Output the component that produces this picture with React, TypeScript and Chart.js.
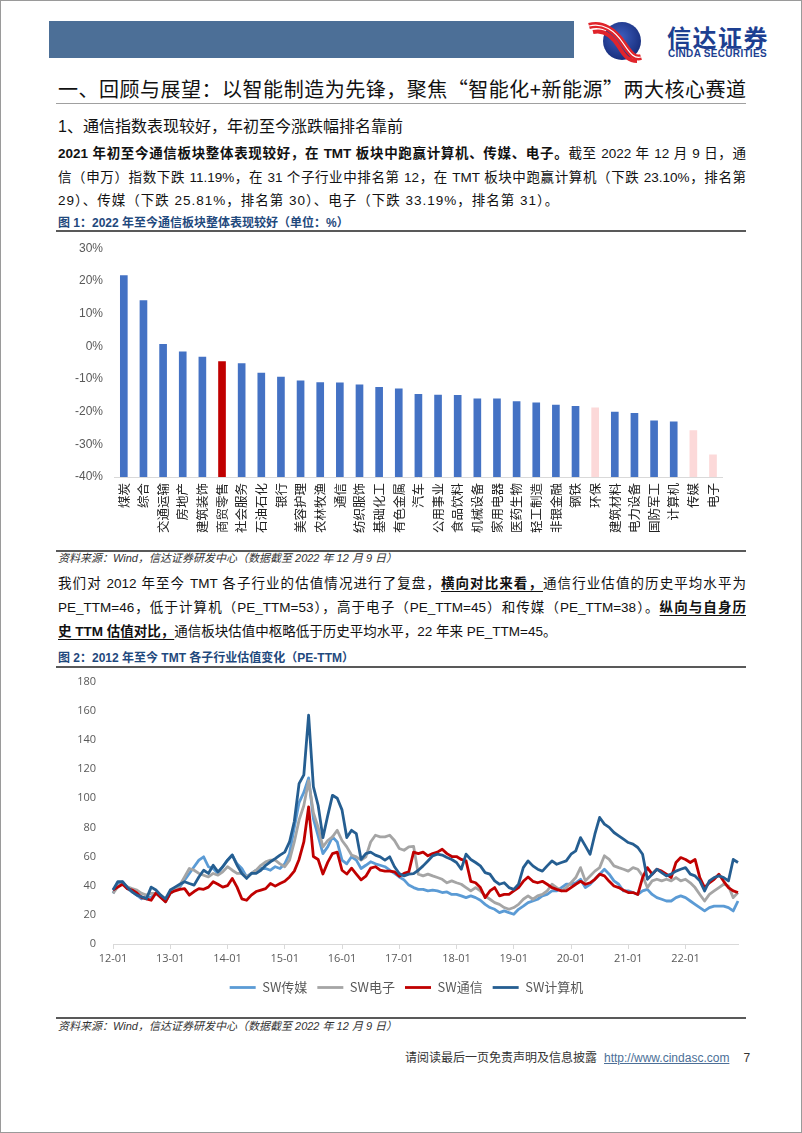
import React, { useEffect, useRef } from 'react';
import { Chart, registerables } from 'chart.js';

Chart.register(...registerables);

// ---------- Figure 1 data ----------
const industries = [
  '煤炭', '综合', '交通运输', '房地产', '建筑装饰', '商贸零售', '社会服务', '石油石化', '银行', '美容护理',
  '农林牧渔', '通信', '纺织服饰', '基础化工', '有色金属', '汽车', '公用事业', '食品饮料', '机械设备', '家用电器',
  '医药生物', '轻工制造', '非银金融', '钢铁', '环保', '建筑材料', '电力设备', '国防军工', '计算机', '传媒', '电子',
];
const ytdChange = [
  21.6, 14.0, 0.6, -1.7, -3.3, -4.7, -5.3, -8.2, -9.4, -10.6,
  -11.1, -11.19, -11.8, -12.6, -13.0, -14.7, -14.9, -15.0, -16.1, -16.1,
  -16.9, -17.3, -18.0, -18.4, -18.8, -20.1, -20.5, -22.8, -23.1, -25.81, -33.19,
];
const highlightIndustry = '商贸零售';
const mutedIndustries = ['环保', '传媒', '电子'];

// ---------- Figure 2 data (monthly, 2012-01 .. 2022-12) ----------
const years = ['12', '13', '14', '15', '16', '17', '18', '19', '20', '21', '22'];
const monthNums = ['01', '02', '03', '04', '05', '06', '07', '08', '09', '10', '11', '12'];
const seriesNames = ['SW传媒', 'SW电子', 'SW通信', 'SW计算机'];

const mediaPE = [
  34.7, 41.5, 42.7, 38, 35.8, 33.5, 31, 32.4, 32, 34.7, 32.4, 29,
  34.7, 37, 39.2, 43.8, 48.4, 53, 57.5, 59.8, 53, 51.8, 48.4, 53,
  57.5, 61, 55, 51.8, 46, 48.4, 50.6, 51.8, 51.8, 50.6, 53, 51.8,
  55, 62, 80, 97, 104, 114, 86, 74, 62, 66.6, 73.5, 70,
  57.5, 55, 59.8, 57.5, 51.8, 54, 56.4, 55, 54, 53, 50.6, 48.4,
  46, 44, 40.4, 38.7, 37.5, 37.5, 36.4, 36.9, 36.4, 35.3, 35.7, 34,
  34, 33, 31.8, 33, 31.8, 30, 27.2, 25, 23.8, 21.5, 22.7, 21.5,
  20.4, 23.8, 26, 28.4, 29.5, 30.7, 33, 34, 36.4, 36.4, 38.7, 41,
  41, 42, 44.4, 38.7, 41, 44.4, 47.9, 51.3, 47.9, 43.3, 41, 36.4,
  36.4, 35.3, 34, 36.4, 37.5, 34, 31.8, 30.7, 29.5, 29.5, 31.8, 33,
  31.8, 29.5, 27.2, 25, 22.7, 25, 26, 26, 26, 25, 22.7, 29.5,
];
const electronicsPE = [
  34.7, 39.2, 41.5, 39.2, 38, 37, 34.7, 33.5, 34.7, 34.7, 33.5, 29,
  34.7, 37.4, 40.4, 46, 51.8, 50.6, 48.4, 47.2, 46, 48.4, 47.2, 49.5,
  53, 50.6, 48.4, 48.4, 46, 48.4, 50.6, 54, 56.4, 57.5, 57.5, 55,
  53, 57.5, 70, 85, 95, 112, 90, 80, 66.6, 71, 73.5, 78,
  71, 66.6, 61, 59.8, 57.5, 59.8, 70, 74.6, 73.5, 73.5, 74.6, 71,
  65.5, 64.3, 66.6, 67, 47.9, 46.7, 47.9, 46.7, 45.6, 44.4, 42, 43.3,
  42, 41, 38.7, 36.4, 38.7, 36.4, 33, 30.7, 28.4, 27.2, 25, 23.8,
  25, 27.2, 30.7, 33, 30.7, 33, 34, 36.4, 41, 38.7, 36.4, 38.7,
  42, 45.6, 52.4, 43.3, 46.7, 50, 52.4, 60.5, 58, 53.6, 52.4, 51.3,
  50, 52.4, 51.3, 46.7, 38.7, 43.3, 44.4, 43.3, 44.4, 43.3, 45.6, 43.3,
  44.4, 42, 38.7, 34, 29.5, 34, 36.4, 38.7, 41, 39.8, 31.8, 35.3,
];
const telecomPE = [
  37, 39, 41, 38, 37, 35, 32, 31, 30, 35, 32, 29,
  35, 36.5, 37.5, 38, 33.5, 36, 38, 37.5, 39, 42.7, 41, 39,
  40, 45, 39, 31, 30, 33.5, 36, 37, 38, 41.5, 39.7, 41.5,
  43, 46, 50, 58, 70, 94, 60, 58, 48, 56, 62, 63,
  50.6, 48, 52, 48, 44, 46.5, 52, 53, 50.6, 50, 50, 49.5,
  46.5, 48.4, 49.5, 63, 62, 63, 60.5, 62, 63, 65, 62, 60,
  60, 58, 57, 43, 42, 38.7, 31.8, 36.4, 38.7, 33, 34, 34,
  36.4, 38.7, 43, 46, 43, 42, 43, 41, 38.7, 37.5, 36.4, 36.4,
  38.7, 41, 43, 41, 42, 44.4, 47.9, 46.7, 43, 39.8, 38.7, 36.9,
  35.3, 35.3, 34, 45.6, 52.4, 47.9, 51.3, 50, 47.9, 45.6, 55.9, 59.3,
  58, 55.9, 58, 45.6, 38.7, 42, 44.4, 47.9, 43, 38.7, 36.4, 35.3,
];
const computerPE = [
  37, 42.7, 42.7, 39, 35.8, 33.5, 32.4, 31, 39, 37, 33.5, 31,
  37, 39, 41, 42.7, 41.5, 40.4, 46, 50.6, 48.4, 54, 49.5, 53,
  57.5, 61, 54, 48.4, 45, 48.4, 48.4, 50.6, 54, 56.4, 58.6, 61,
  63, 70, 84, 110, 116, 157, 108, 95, 73, 88, 102, 100,
  92, 73, 78, 75.7, 58, 62, 63, 61, 59.8, 57.5, 59.8, 53,
  48.4, 46.7, 47.9, 48.3, 50.6, 53.6, 57, 60.5, 61.6, 61, 59.3, 58,
  55.9, 51.3, 61.6, 58, 55.9, 53.6, 49, 47.9, 43.3, 41, 42, 38.7,
  37.5, 41, 52.4, 57, 53.6, 51.3, 50, 53.6, 57, 54.7, 55.9, 57,
  61.6, 63.9, 73, 67.3, 61.6, 75.3, 86.8, 82.2, 80, 76.5, 74.2, 71.9,
  69.6, 68.5, 66.2, 61.6, 44.4, 47.9, 51.3, 49, 46.7, 47.9, 50, 51.3,
  52.4, 47.9, 46.7, 43.3, 36.4, 43.3, 45.6, 46.7, 45.6, 43.3, 58, 55.9,
];

const SANS = '"Liberation Sans", "Noto Sans CJK SC", sans-serif';
const CJK = '"Noto Sans CJK SC", "Liberation Sans", sans-serif';

function BarChart() {
  const ref = useRef<HTMLCanvasElement>(null);
  useEffect(() => {
    const colors = industries.map((n) =>
      n === highlightIndustry ? '#c00000' : mutedIndustries.includes(n) ? '#fcd9d9' : '#4472c4'
    );
    const chart = new Chart(ref.current as HTMLCanvasElement, {
      type: 'bar',
      data: {
        labels: industries,
        datasets: [{ data: ytdChange, backgroundColor: colors, base: -40, barThickness: 7 } as any],
      },
      options: {
        animation: false,
        responsive: false,
        maintainAspectRatio: false,
        layout: { padding: { top: 0, right: 0, left: 0, bottom: 0 } },
        plugins: { legend: { display: false }, tooltip: { enabled: false } },
        scales: {
          x: {
            grid: { display: false, drawTicks: false },
            border: { color: '#d9d9d9' },
            ticks: {
              autoSkip: false, minRotation: 90, maxRotation: 90, padding: 6,
              color: '#222', font: { family: CJK, size: 12.5 },
            },
            afterFit: (s: any) => { s.height = 70; },
          },
          y: {
            min: -40, max: 30,
            grid: { display: false, drawTicks: false },
            border: { display: false },
            ticks: {
              stepSize: 10, padding: 11, color: '#595959',
              font: { family: SANS, size: 12 },
              callback: (v: any) => `${v}%`,
            },
            afterFit: (s: any) => { s.width = 63; },
          },
        },
      },
    });
    return () => chart.destroy();
  }, []);
  return (
    <canvas ref={ref} width={683} height={317}
      style={{ position: 'absolute', left: 50, top: 229, width: 683, height: 317 }} />
  );
}

function LineChart() {
  const ref = useRef<HTMLCanvasElement>(null);
  useEffect(() => {
    const labels: string[] = [];
    years.forEach((y) => monthNums.forEach((m) => labels.push(`${y}-${m}`)));
    const seriesData = [mediaPE, electronicsPE, telecomPE, computerPE];
    const seriesColors = ['#5b9bd5', '#a5a5a5', '#c00000', '#255e91'];
    const drawOrder = [3, 2, 1, 0];
    const chart = new Chart(ref.current as HTMLCanvasElement, {
      type: 'line',
      data: {
        labels,
        datasets: seriesNames.map((name, i) => ({
          label: name,
          data: seriesData[i],
          borderColor: seriesColors[i],
          backgroundColor: seriesColors[i],
          borderWidth: 2.8,
          pointRadius: 0,
          tension: 0,
          order: drawOrder[i],
          borderJoinStyle: 'round' as const,
        })),
      },
      options: {
        animation: false,
        responsive: false,
        maintainAspectRatio: false,
        layout: { padding: { top: 0, right: 5, left: 24, bottom: 0 } },
        plugins: {
          tooltip: { enabled: false },
          legend: {
            position: 'bottom',
            labels: {
              usePointStyle: true,
              pointStyle: 'line',
              pointStyleWidth: 26,
              padding: 10,
              color: '#595959',
              font: { family: CJK, size: 13 },
              sort: (a: any, b: any) => a.datasetIndex - b.datasetIndex,
            },
          },
        },
        scales: {
          x: {
            grid: { display: true, drawOnChartArea: false, drawTicks: true, tickLength: 5, color: '#d9d9d9' },
            border: { color: '#d9d9d9' },
            ticks: {
              autoSkip: false, maxRotation: 0, padding: 3, color: '#595959',
              font: { family: '"Open Sans", sans-serif', size: 11 },
              callback: (_v: any, i: number) => (labels[i].endsWith('-01') ? labels[i] : null),
            },
            afterFit: (s: any) => { s.height = 27; },
          },
          y: {
            min: 0, max: 180,
            grid: { display: false, drawTicks: false },
            border: { display: false },
            ticks: {
              stepSize: 20, padding: 17, color: '#595959',
              font: { family: '"Open Sans", sans-serif', size: 11 },
            },
            afterFit: (s: any) => { s.width = 38; },
          },
        },
      },
    });
    return () => chart.destroy();
  }, []);
  return (
    <canvas ref={ref} width={692} height={346}
      style={{ position: 'absolute', left: 50, top: 657, width: 692, height: 346 }} />
  );
}

const abs = (o: React.CSSProperties): React.CSSProperties => ({ position: 'absolute', ...o });

function Para({ y, justify, children }: { y: number; justify?: boolean; children: React.ReactNode }) {
  return (
    <div style={abs({
      left: 57, top: y - 10, width: 688, height: 20, lineHeight: '20px', fontSize: 13.5,
      fontFamily: SANS, color: '#111', whiteSpace: 'nowrap',
      textAlign: justify ? 'justify' : 'left', textAlignLast: justify ? 'justify' : 'left',
    } as React.CSSProperties)}>{children}</div>
  );
}

const B = ({ children }: { children: React.ReactNode }) => <b style={{ fontWeight: 700 }}>{children}</b>;
const BU = ({ children }: { children: React.ReactNode }) => (
  <b style={{ fontWeight: 700, textDecoration: 'underline', textUnderlineOffset: 3 }}>{children}</b>
);

function Caption({ y, children }: { y: number; children: React.ReactNode }) {
  return (
    <div style={abs({ left: 57, top: y - 8, height: 16, lineHeight: '16px', fontSize: 12, fontWeight: 700, color: '#1f497d', fontFamily: SANS, whiteSpace: 'nowrap' })}>
      {children}
    </div>
  );
}
function Rule({ y, w = 2, c = '#595959' }: { y: number; w?: number; c?: string }) {
  return <div style={abs({ left: 55, top: y, width: 690, height: w, background: c })} />;
}
function Source({ y }: { y: number }) {
  return (
    <div style={abs({ left: 57, top: y - 8, height: 16, lineHeight: '16px', fontSize: 11, fontStyle: 'italic', color: '#333', fontFamily: SANS, whiteSpace: 'nowrap' })}>
      资料来源：Wind，信达证券研发中心（数据截至 2022 年 12 月 9 日）
    </div>
  );
}

function Logo() {
  return (
    <svg style={abs({ left: 586, top: 16 })} width={56} height={46} viewBox="0 0 56 46">
      <defs>
        <radialGradient id="lg" cx="0.45" cy="0.4" r="0.65">
          <stop offset="0" stopColor="#3f5fbf" />
          <stop offset="1" stopColor="#142a78" />
        </radialGradient>
      </defs>
      <circle cx={35} cy={24} r={19} fill="url(#lg)" />
      <path d="M2 9 C 16 5, 28 14, 36 26 S 48 42, 54 40" stroke="#e0242b" strokeWidth={6} fill="none" />
      <path d="M2 9 C 16 5, 28 14, 36 26 S 48 42, 54 40" stroke="#ffffff" strokeWidth={1.2} fill="none" />
      <path d="M6 15 C 18 12, 26 20, 32 30 S 42 44, 50 44" stroke="#e0242b" strokeWidth={4} fill="none" />
    </svg>
  );
}

export default function App() {
  return (
    <div style={abs({ left: 0, top: 0, width: 802, height: 1133, background: '#fff', boxSizing: 'border-box', border: '1px solid #9a9a9a', overflow: 'hidden' })}>
      {/* header */}
      <div style={abs({ left: 48, top: 20, width: 525, height: 37, background: '#4c6f97' })} />
      <Logo />
      <div style={abs({ left: 666, top: 23, fontSize: 24, fontWeight: 700, color: '#1d3f91', fontFamily: CJK, lineHeight: '26px', letterSpacing: 1.5, whiteSpace: 'nowrap' })}>信达证券</div>
      <div style={abs({ left: 667, top: 48, fontSize: 10, fontWeight: 700, color: '#1d3f91', fontFamily: SANS, lineHeight: '10px', letterSpacing: 0.3, whiteSpace: 'nowrap' })}>CINDA SECURITIES</div>

      {/* title */}
      <div style={abs({ left: 57, top: 76, width: 688, height: 24, lineHeight: '24px', fontSize: 20, fontFamily: CJK, color: '#111', whiteSpace: 'nowrap', textAlign: 'justify', textAlignLast: 'justify' } as React.CSSProperties)}>
        一、回顾与展望：以智能制造为先锋，聚焦“智能化+新能源”两大核心赛道
      </div>
      <Rule y={102} w={1} c="#a0a0a0" />
      <div style={abs({ left: 57, top: 115, height: 22, lineHeight: '22px', fontSize: 16, fontFamily: SANS, color: '#111', whiteSpace: 'nowrap' })}>
        1、通信指数表现较好，年初至今涨跌幅排名靠前
      </div>

      <Para y={153} justify>
        <B>2021 年初至今通信板块整体表现较好，在 TMT 板块中跑赢计算机、传媒、电子。</B>截至 2022 年 12 月 9 日，通
      </Para>
      <Para y={177} justify>
        信（申万）指数下跌 11.19%，在 31 个子行业中排名第 12，在 TMT 板块中跑赢计算机（下跌 23.10%，排名第
      </Para>
      <Para y={200}>
        <span style={{ letterSpacing: 1 }}>29）、传媒（下跌 25.81%，排名第 30）、电子（下跌 33.19%，排名第 31）。</span>
      </Para>

      <Caption y={222}>图 1：2022 年至今通信板块整体表现较好（单位：%）</Caption>
      <Rule y={229} />
      <BarChart />
      <Rule y={549} w={1.5} />
      <Source y={557} />

      <Para y={583} justify>
        我们对 2012 年至今 TMT 各子行业的估值情况进行了复盘，<BU>横向对比来看，</BU>通信行业估值的历史平均水平为
      </Para>
      <Para y={607} justify>
        PE_TTM=46，低于计算机（PE_TTM=53），高于电子（PE_TTM=45）和传媒（PE_TTM=38）。<BU>纵向与自身历</BU>
      </Para>
      <Para y={631}>
        <BU>史 TTM 估值对比，</BU>通信板块估值中枢略低于历史平均水平，22 年来 PE_TTM=45。
      </Para>

      <Caption y={657}>图 2：2012 年至今 TMT 各子行业估值变化（PE-TTM）</Caption>
      <Rule y={665} />
      <LineChart />
      <Rule y={1016} w={1.5} />
      <Source y={1025} />

      {/* footer */}
      <div style={abs({ left: 404, top: 1049, height: 16, lineHeight: '16px', fontSize: 12, fontFamily: SANS, color: '#333', whiteSpace: 'nowrap' })}>
        请阅读最后一页免责声明及信息披露
        <span style={{ color: '#4c6f97', textDecoration: 'underline', marginLeft: 7 }}>http://www.cindasc.com</span>
        <span style={{ marginLeft: 14 }}>7</span>
      </div>
    </div>
  );
}
